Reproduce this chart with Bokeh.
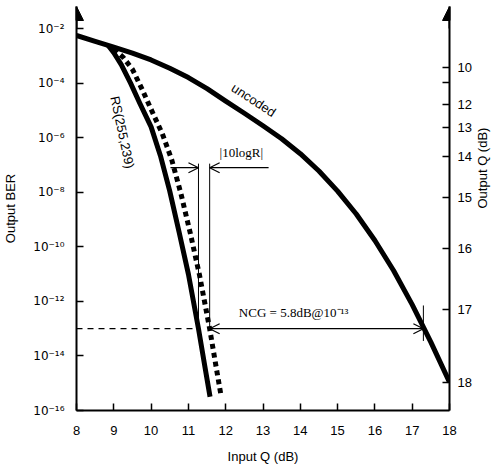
import math
from bokeh.plotting import figure
from bokeh.models import (Range1d, LogAxis, FixedTicker, Arrow, NormalHead,
                          OpenHead)
from bokeh.embed import file_html
from bokeh.resources import INLINE
from bokeh.core.properties import value

# ---------------- data ----------------
input_q_db = [8.0, 8.5, 9.0, 9.5, 10.0, 10.5, 11.0, 11.5, 12.0, 12.5, 13.0,
              13.5, 14.0, 14.5, 15.0, 15.5, 16.0, 16.5, 17.0, 17.5, 18.0]
uncoded_ber = [5.6e-3, 3.4e-3, 2.1e-3, 1.26e-3, 7.1e-4, 3.5e-4, 1.6e-4, 6.3e-5,
               2.2e-5, 7.9e-6, 2.75e-6, 9.1e-7, 2.6e-7, 6.0e-8, 1.1e-8, 1.6e-9,
               1.7e-10, 1.35e-11, 7.6e-13, 3.2e-14, 1.1e-15]

rs_q_db = [8.85, 9.0, 9.2, 9.45, 9.7, 10.0, 10.25, 10.5, 10.75, 11.0, 11.27,
           11.45, 11.58]
rs_ber = [2.4e-3, 1.3e-3, 4.8e-4, 1.0e-4, 1.8e-5, 2.5e-6, 2.2e-7, 1.1e-8,
          3.5e-10, 1.0e-11, 1.0e-13, 3.5e-15, 3.2e-16]

rs_rate_q_db = [9.0, 9.25, 9.5, 9.75, 10.0, 10.3, 10.55, 10.8, 11.05, 11.3,
                11.57, 11.75, 11.88]
rs_rate_ber = [1.8e-3, 8.9e-4, 3.2e-4, 6.3e-5, 1.1e-5, 1.4e-6, 1.6e-7, 8.9e-9,
               3.2e-10, 8.9e-12, 1.0e-13, 3.5e-15, 3.2e-16]

x_ticks = [8, 9, 10, 11, 12, 13, 14, 15, 16, 17, 18]
left_tick_values = [1e-2, 1e-4, 1e-6, 1e-8, 1e-10, 1e-12, 1e-14, 1e-16]
left_tick_labels = ["10⁻²", "10⁻⁴", "10⁻⁶", "10⁻⁸", "10⁻¹⁰", "10⁻¹²",
                    "10⁻¹⁴", "10⁻¹⁶"]
right_tick_ber = [3.7e-4, 1.05e-4, 1.66e-5, 2.3e-6, 2.0e-7, 6.5e-9, 8.7e-11,
                  5.1e-13, 1.1e-15]
right_tick_labels = ["10", "", "12", "13", "14", "15", "16", "17", "18"]

ncg_level = 1e-13
rs_q_at_ncg = 11.27
rs_rate_q_at_ncg = 11.57
uncoded_q_at_ncg = 17.3
rate_arrow_level = 10 ** -7.1
rate_line_top = 10 ** -6.95
ncg_text = "NCG = 5.8dB@10⁻¹³"
rate_text = "|10logR|"

# ---------------- figure ----------------
FONT = "Liberation Sans"
SERIF = "Liberation Serif"
y_top = 10 ** -1.19

p = figure(width=504, height=472, x_range=Range1d(8, 18),
           y_range=Range1d(1e-16, y_top), y_axis_type="log",
           output_backend="svg", toolbar_location=None,
           min_border_left=76, min_border_right=55, min_border_top=6,
           min_border_bottom=62)
p.outline_line_color = None
p.xgrid.visible = False
p.ygrid.visible = False
p.background_fill_color = "white"
p.border_fill_color = "white"

right_axis = LogAxis(ticker=FixedTicker(ticks=right_tick_ber),
                     major_label_overrides=dict(zip(right_tick_ber, right_tick_labels)))
p.add_layout(right_axis, "right")

p.xaxis.ticker = FixedTicker(ticks=x_ticks)
p.yaxis[0].ticker = FixedTicker(ticks=left_tick_values)
p.yaxis[0].major_label_overrides = dict(zip(left_tick_values, left_tick_labels))
p.xaxis.axis_label = "Input Q (dB)"
p.yaxis[0].axis_label = "Output BER"
right_axis.axis_label = "Output Q (dB)"

for ax in [p.xaxis[0], p.yaxis[0], right_axis]:
    ax.axis_line_width = 2
    ax.axis_line_color = "black"
    ax.major_tick_in = 7
    ax.major_tick_out = 0
    ax.major_tick_line_width = 1.5
    ax.major_tick_line_color = "black"
    ax.minor_tick_line_color = None
    ax.major_label_text_font = FONT
    ax.major_label_text_font_size = "13px"
    ax.major_label_text_color = "black"
    ax.axis_label_text_font = FONT
    ax.axis_label_text_font_size = "13px"
    ax.axis_label_text_font_style = "normal"
    ax.axis_label_text_color = "black"
p.yaxis[0].major_label_text_font = "DejaVu Sans"
p.yaxis[0].major_label_text_font_size = "12px"
p.xaxis.major_label_standoff = 15
p.xaxis.axis_label_standoff = 11
p.yaxis[0].major_label_standoff = 12
p.yaxis[0].axis_label_standoff = 12
right_axis.major_label_standoff = 8
right_axis.axis_label_standoff = 8
if "axis_label_orientation" in right_axis.properties():
    right_axis.axis_label_orientation = math.pi / 2

# arrows on top of the vertical axes
for xa in (8, 18):
    p.add_layout(Arrow(x_start=xa, y_start=1e-2, x_end=xa, y_end=y_top,
                       line_width=2, line_color="black",
                       end=NormalHead(size=14, fill_color="black",
                                      line_color="black")))

# curves
p.line(input_q_db, uncoded_ber, line_width=5, line_color="black",
       line_join="round")
p.line(rs_q_db, rs_ber, line_width=5, line_color="black", line_join="round")
p.line(rs_rate_q_db, rs_rate_ber, line_width=5, line_color="black",
       line_dash="5 4", line_cap="butt")

# NCG dashed reference line
p.line([8, rs_q_at_ncg], [ncg_level, ncg_level], line_width=1.2,
       line_color="black", line_dash="6 5")

# vertical guide lines for 10logR
p.line([rs_q_at_ncg, rs_q_at_ncg], [rate_line_top, ncg_level], line_width=1,
       line_color="black")
p.line([rs_rate_q_at_ncg, rs_rate_q_at_ncg], [rate_line_top, ncg_level],
       line_width=1, line_color="black")
p.line([uncoded_q_at_ncg, uncoded_q_at_ncg], [10 ** -12.15, 10 ** -13.45],
       line_width=1, line_color="black")

# 10logR arrows
p.add_layout(Arrow(x_start=10.52, y_start=rate_arrow_level, x_end=rs_q_at_ncg,
                   y_end=rate_arrow_level, line_width=1.2, line_color="black",
                   end=OpenHead(size=10, line_width=1.2, line_color="black")))
p.add_layout(Arrow(x_start=13.15, y_start=rate_arrow_level,
                   x_end=rs_rate_q_at_ncg, y_end=rate_arrow_level,
                   line_width=1.2, line_color="black",
                   end=OpenHead(size=10, line_width=1.2, line_color="black")))

# NCG arrow
p.add_layout(Arrow(x_start=rs_rate_q_at_ncg, y_start=ncg_level,
                   x_end=uncoded_q_at_ncg, y_end=ncg_level,
                   line_width=1.2, line_color="black",
                   start=OpenHead(size=10, line_width=1.2, line_color="black"),
                   end=OpenHead(size=10, line_width=1.2, line_color="black")))

# texts
p.text(x=[12.75], y=[10 ** -4.62], text=["uncoded"], angle=-0.58,
       text_font=value(FONT), text_font_size="13px", text_color="black",
       text_align="center", text_baseline="middle")
p.text(x=[9.23], y=[10 ** -5.8], text=["RS(255,239)"], angle=-1.36,
       text_font=value(FONT), text_font_size="13px", text_color="black",
       text_align="center", text_baseline="middle")
p.text(x=[12.42], y=[10 ** -6.55], text=[rate_text],
       text_font=value(SERIF), text_font_size="13px", text_color="black",
       text_align="center", text_baseline="middle")
p.text(x=[13.82], y=[10 ** -12.41], text=[ncg_text],
       text_font=value(SERIF), text_font_size="13px", text_color="black",
       text_align="center", text_baseline="middle")

open("out.html", "w").write(file_html(p, INLINE))
